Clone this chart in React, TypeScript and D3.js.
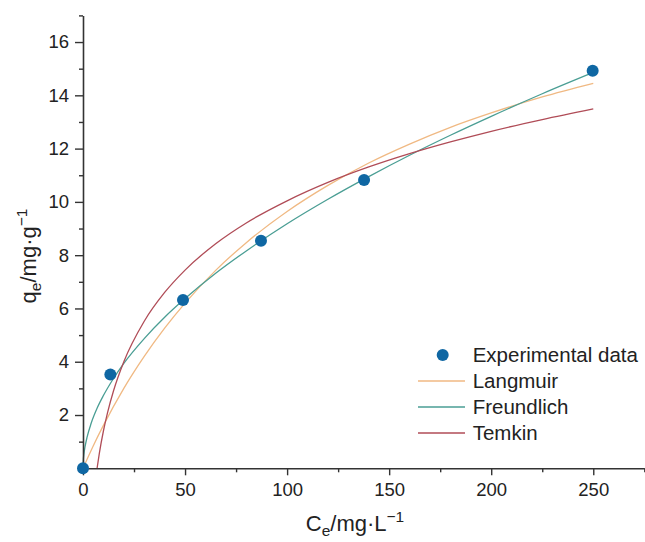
import * as d3 from 'd3';
import { useEffect, useRef } from 'react';

// experimental points (Ce, qe)
const expCe = [0, 13.4, 49, 87.2, 137.7, 249.7];
const expQe = [0, 3.52, 6.32, 8.54, 10.82, 14.92];

// fitted curves
const langCe = [0, 5, 10, 20, 30, 40, 50, 65, 80, 100, 120, 140, 160, 180, 200, 225, 250];
const langQe = [0, 0.84, 1.61, 3.0, 4.2, 5.26, 6.2, 7.43, 8.47, 9.64, 10.62, 11.46, 12.17, 12.8, 13.34, 13.94, 14.45];

const freuCe = [0, 0.1, 0.5, 1, 2, 4, 7, 10, 15, 20, 30, 40, 50, 65, 80, 100, 120, 140, 160, 180, 200, 225, 250];
const freuQe = [0, 0.24, 0.57, 0.81, 1.17, 1.69, 2.27, 2.73, 3.38, 3.94, 4.87, 5.67, 6.37, 7.32, 8.16, 9.18, 10.1, 10.95, 11.75, 12.5, 13.21, 14.06, 14.86];

const temkCe = [6.9, 8, 10, 12, 15, 20, 30, 40, 50, 65, 80, 100, 120, 140, 160, 180, 200, 225, 250];
const temkQe = [0, 0.56, 1.4, 2.08, 2.92, 4.0, 5.52, 6.6, 7.44, 8.43, 9.21, 10.04, 10.73, 11.31, 11.81, 12.25, 12.65, 13.09, 13.49];

const xMajor = [0, 50, 100, 150, 200, 250];
const xMinor = [25, 75, 125, 175, 225, 275];
const yMajor = [2, 4, 6, 8, 10, 12, 14, 16];
const yMinor = [1, 3, 5, 7, 9, 11, 13, 15, 17];

const series = [
    { name: 'Langmuir', ce: langCe, qe: langQe, color: '#f0b983' },
    { name: 'Freundlich', ce: freuCe, qe: freuQe, color: '#4a9e94' },
    { name: 'Temkin', ce: temkCe, qe: temkQe, color: '#b04c57' },
];

const pointColor = '#0f67a3';
const axisColor = '#333';
const font = 'Liberation Sans, Arial, sans-serif';

function App() {
    const svgRef = useRef<SVGSVGElement | null>(null);

    useEffect(() => {
        if (!svgRef.current) return;
        const svg = d3.select(svgRef.current);
        svg.selectAll('*').remove();

        const x = d3.scaleLinear().domain([0, 275]).range([83, 644.3]);
        const y = d3.scaleLinear().domain([0, 17]).range([468.3, 15.4]);

        // curves
        const line = d3.line<[number, number]>()
            .x(d => x(d[0]))
            .y(d => y(d[1]))
            .curve(d3.curveMonotoneX);

        series.forEach(s => {
            const pts = s.ce.map((c, i) => [c, s.qe[i]] as [number, number]);
            svg.append('path')
                .datum(pts)
                .attr('d', line)
                .attr('fill', 'none')
                .attr('stroke', s.color)
                .attr('stroke-width', 1.3);
        });

        // axes
        const xAxis = svg.append('g')
            .attr('transform', `translate(0, ${y(0)})`)
            .call(d3.axisBottom(x).tickValues(xMajor).tickSize(7).tickPadding(8).tickSizeOuter(0));
        svg.append('g')
            .attr('transform', `translate(0, ${y(0)})`)
            .call(d3.axisBottom(x).tickValues(xMinor).tickSize(4).tickFormat(() => '').tickSizeOuter(0))
            .select('.domain').remove();

        const yAxis = svg.append('g')
            .attr('transform', `translate(${x(0)}, 0)`)
            .call(d3.axisLeft(y).tickValues(yMajor).tickSize(8).tickPadding(6).tickSizeOuter(0));
        svg.append('g')
            .attr('transform', `translate(${x(0)}, 0)`)
            .call(d3.axisLeft(y).tickValues(yMinor).tickSize(4).tickFormat(() => '').tickSizeOuter(0))
            .select('.domain').remove();

        svg.selectAll('.domain').attr('stroke', axisColor).attr('stroke-width', 1.6);
        svg.selectAll('.tick line').attr('stroke', axisColor).attr('stroke-width', 1.4);
        [xAxis, yAxis].forEach(a => a.selectAll('.tick text')
            .attr('fill', '#222')
            .attr('font-family', font)
            .attr('font-size', 18.5));

        // points
        svg.append('g')
            .selectAll('circle')
            .data(expCe)
            .enter().append('circle')
            .attr('cx', d => x(d))
            .attr('cy', (d, i) => y(expQe[i]))
            .attr('r', 6)
            .attr('fill', pointColor);

        // axis titles
        const xt = svg.append('text')
            .attr('x', 355)
            .attr('y', 531)
            .attr('text-anchor', 'middle')
            .attr('font-family', font)
            .attr('font-size', 22)
            .attr('fill', '#222');
        xt.append('tspan').text('C');
        xt.append('tspan').attr('font-size', 15.5).attr('dy', 5).text('e');
        xt.append('tspan').attr('dy', -5).text('/mg·L');
        xt.append('tspan').attr('font-size', 15.5).attr('dy', -9).text('−1');

        const yt = svg.append('text')
            .attr('transform', 'translate(36, 256) rotate(-90)')
            .attr('text-anchor', 'middle')
            .attr('font-family', font)
            .attr('font-size', 22)
            .attr('fill', '#222');
        yt.append('tspan').text('q');
        yt.append('tspan').attr('font-size', 15.5).attr('dy', 5).text('e');
        yt.append('tspan').attr('dy', -5).text('/mg·g');
        yt.append('tspan').attr('font-size', 15.5).attr('dy', -9).text('−1');

        // legend
        const legend = svg.append('g').attr('font-family', font).attr('font-size', 20.5).attr('fill', '#222');
        legend.append('circle').attr('cx', 442.7).attr('cy', 355).attr('r', 6).attr('fill', pointColor);
        legend.append('text').attr('x', 472.7).attr('y', 355).attr('dy', '0.35em').text('Experimental data');
        series.forEach((s, i) => {
            const ly = 381 + i * 26;
            legend.append('line')
                .attr('x1', 418).attr('x2', 465)
                .attr('y1', ly).attr('y2', ly)
                .attr('stroke', s.color)
                .attr('stroke-width', 1.3);
            legend.append('text').attr('x', 472.7).attr('y', ly).attr('dy', '0.35em').text(s.name);
        });

        return () => {
            d3.select(svgRef.current).selectAll('*').remove();
        };
    }, []);

    return (
        <svg
            ref={svgRef}
            width={645}
            height={542}
            style={{ position: 'absolute', left: 0, top: 0, background: '#fff' }}
        />
    );
}

export default App;
